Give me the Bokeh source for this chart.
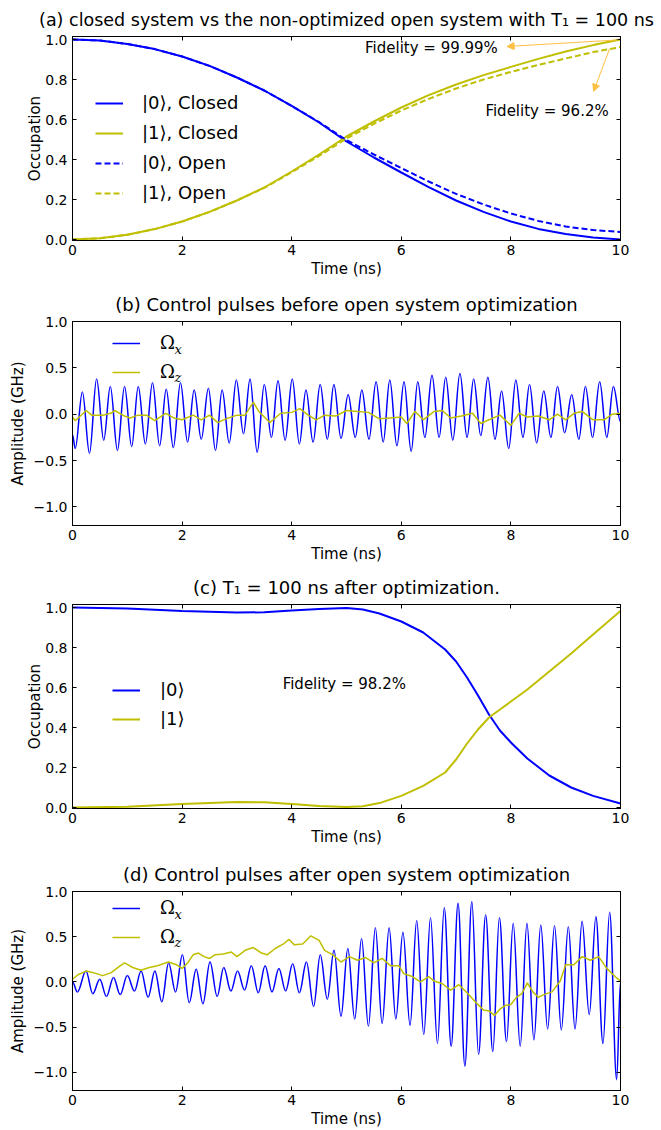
from bokeh.plotting import figure
from bokeh.layouts import column
from bokeh.models import (Range1d, FixedTicker, LinearAxis, Legend, LegendItem,
                          Label, Arrow, NormalHead, CustomJSTickFormatter, ColumnDataSource)
from bokeh.embed import file_html
from bokeh.resources import INLINE

# ---------------- data ----------------
x_ticks = [0, 2, 4, 6, 8, 10]
occ_ticks = [0.0, 0.2, 0.4, 0.6, 0.8, 1.0]
amp_ticks = [-1.0, -0.5, 0.0, 0.5, 1.0]

# (a) closed vs non-optimized open system
time_a = [0.0, 0.5, 1.0, 1.5, 2.0, 2.5, 3.0, 3.5, 4.0, 4.5, 5.0,
          5.5, 6.0, 6.5, 7.0, 7.5, 8.0, 8.5, 9.0, 9.5, 10.0]
p0_closed = [1.000, 0.995, 0.978, 0.952, 0.915, 0.868, 0.810, 0.745, 0.668, 0.585, 0.490,
             0.410, 0.335, 0.262, 0.195, 0.138, 0.090, 0.053, 0.027, 0.010, 0.000]
p1_closed = [0.000, 0.006, 0.024, 0.052, 0.090, 0.138, 0.195, 0.260, 0.340, 0.425, 0.515,
             0.590, 0.660, 0.722, 0.775, 0.822, 0.863, 0.903, 0.940, 0.972, 1.000]
p0_open = [1.000, 0.995, 0.978, 0.952, 0.915, 0.868, 0.810, 0.745, 0.668, 0.587, 0.497,
           0.425, 0.357, 0.290, 0.228, 0.175, 0.130, 0.093, 0.065, 0.047, 0.038]
p1_open = [0.000, 0.006, 0.024, 0.052, 0.090, 0.138, 0.195, 0.258, 0.336, 0.418, 0.505,
           0.578, 0.645, 0.703, 0.755, 0.800, 0.838, 0.873, 0.905, 0.937, 0.962]

# (b) control pulses before optimization (Omega_x: start, extrema, end)
bx_t = [0.0, 0.05, 0.18, 0.31, 0.44, 0.57, 0.69, 0.82, 0.95, 1.08, 1.20, 1.33, 1.46, 1.59,
        1.71, 1.84, 1.97, 2.10, 2.22, 2.35, 2.48, 2.61, 2.73, 2.86, 2.99, 3.12, 3.24, 3.37,
        3.50, 3.63, 3.75, 3.88, 4.01, 4.14, 4.26, 4.39, 4.52, 4.65, 4.77, 4.90, 5.03, 5.16,
        5.28, 5.41, 5.54, 5.67, 5.79, 5.92, 6.05, 6.18, 6.30, 6.43, 6.56, 6.69, 6.81, 6.94,
        7.07, 7.20, 7.32, 7.45, 7.58, 7.71, 7.83, 7.96, 8.09, 8.22, 8.34, 8.47, 8.60, 8.73,
        8.85, 8.98, 9.11, 9.24, 9.36, 9.49, 9.62, 9.75, 9.87, 10.0]
bx_v = [-0.22, -0.37,
        0.24, -0.42, 0.38, -0.28, 0.30, -0.39, 0.30, -0.35, 0.30, -0.32, 0.34, -0.34,
        0.27, -0.36, 0.34, -0.30, 0.26, -0.27, 0.28, -0.39, 0.26, -0.31, 0.37, -0.21,
        0.38, -0.41, 0.32, -0.25, 0.36, -0.28, 0.38, -0.32, 0.26, -0.30, 0.32, -0.27,
        0.32, -0.26, 0.21, -0.25, 0.26, -0.27, 0.35, -0.30, 0.37, -0.34, 0.35, -0.40,
        0.35, -0.25, 0.42, -0.25, 0.40, -0.28, 0.44, -0.25, 0.38, -0.23, 0.40, -0.27,
        0.25, -0.37, 0.37, -0.25, 0.32, -0.31, 0.25, -0.25, 0.30, -0.20, 0.21, -0.27,
        0.30, -0.25, 0.35, -0.25, 0.30,
        -0.08]
bz_t = [0, 0.05, 0.25, 0.35, 0.55, 0.7, 0.77, 0.95, 1.05, 1.2, 1.35, 1.5, 1.7, 1.85, 2.0,
        2.2, 2.35, 2.5, 2.65, 2.8, 3.0, 3.15, 3.3, 3.4, 3.6, 3.8, 4.0, 4.15, 4.3, 4.45,
        4.6, 4.8, 5.0, 5.2, 5.4, 5.6, 5.8, 6.0, 6.1, 6.25, 6.4, 6.6, 6.75, 6.9, 7.1,
        7.3, 7.45, 7.6, 7.8, 8.0, 8.15, 8.3, 8.5, 8.7, 8.85, 9.0, 9.15, 9.3, 9.5, 9.7,
        9.85, 10.0]
bz_v = [-0.03, -0.07, 0.04, -0.01, -0.01, 0.01, 0.04, -0.02, -0.04, -0.01, -0.01, -0.07,
        0.01, -0.04, -0.06, -0.01, -0.06, -0.01, -0.09, -0.05, -0.01, -0.01, 0.13, 0.03,
        -0.09, 0.01, 0.02, 0.06, -0.01, -0.06, -0.01, -0.02, 0.04, 0.03, 0.02, -0.05,
        -0.04, -0.03, -0.10, 0.03, -0.06, 0.03, 0.04, -0.04, -0.02, 0.01, -0.10, -0.06,
        -0.01, -0.12, 0.01, -0.03, -0.02, -0.06, 0.0, -0.06, 0.01, 0.03, -0.06, -0.06,
        0.0, 0.01]

# (c) T1 = 100 ns after optimization
time_c = [0.0, 1.0, 2.0, 3.0, 3.5, 4.0, 4.5, 5.0, 5.3, 5.6, 6.0, 6.4, 6.8, 7.0, 7.2, 7.4,
          7.6, 7.8, 8.0, 8.3, 8.7, 9.1, 9.5, 10.0]
p0_opt = [1.000, 0.995, 0.983, 0.975, 0.976, 0.985, 0.993, 0.997, 0.990, 0.970, 0.930,
          0.875, 0.790, 0.730, 0.650, 0.560, 0.465, 0.385, 0.325, 0.245, 0.160, 0.100,
          0.058, 0.020]
p1_opt = [0.000, 0.004, 0.017, 0.028, 0.026, 0.018, 0.008, 0.002, 0.006, 0.022, 0.058,
          0.108, 0.175, 0.240, 0.320, 0.390, 0.450, 0.490, 0.530, 0.590, 0.680, 0.770,
          0.865, 0.983]

# (d) control pulses after optimization (Omega_x: start, extrema, end)
dx_t = [0.0, 0.09,
        0.245, 0.37, 0.497, 0.62, 0.748, 0.87, 1.000, 1.13, 1.251, 1.38, 1.503, 1.63,
        1.754, 1.88, 2.006, 2.13, 2.257, 2.38, 2.509, 2.64, 2.760, 2.89, 3.012, 3.14,
        3.263, 3.39, 3.515, 3.64, 3.766, 3.89, 4.018, 4.14, 4.269, 4.40, 4.521, 4.65,
        4.772, 4.90, 5.024, 5.15, 5.275, 5.40, 5.527, 5.65, 5.778, 5.90, 6.030, 6.16,
        6.281, 6.41, 6.533, 6.66, 6.784, 6.91, 7.036, 7.16, 7.287, 7.41, 7.539, 7.67,
        7.790, 7.92, 8.042, 8.17, 8.293, 8.42, 8.545, 8.67, 8.796, 8.92, 9.048, 9.17,
        9.299, 9.43, 9.551, 9.68, 9.802, 9.93,
        10.0]
dx_v = [0.0, -0.11,
        0.12, -0.13, 0.03, -0.16, 0.05, -0.14, 0.07, -0.10, 0.12, -0.17, 0.12, -0.22,
        0.21, -0.11, 0.30, -0.23, 0.14, -0.24, 0.22, -0.16, 0.16, -0.10, 0.12, -0.09,
        0.18, -0.12, 0.18, -0.11, 0.15, -0.10, 0.20, -0.12, 0.22, -0.27, 0.30, -0.19,
        0.35, -0.38, 0.37, -0.41, 0.48, -0.49, 0.60, -0.46, 0.60, -0.41, 0.55, -0.48,
        0.68, -0.58, 0.71, -0.68, 0.82, -0.71, 0.87, -0.93, 0.89, -0.80, 0.74, -0.77,
        0.71, -0.66, 0.65, -0.71, 0.65, -0.64, 0.63, -0.52, 0.62, -0.53, 0.61, -0.52,
        0.67, -0.36, 0.72, -0.68, 0.77, -1.08,
        0.0]
dz_t = [0, 0.1, 0.25, 0.4, 0.55, 0.7, 0.85, 0.95, 1.1, 1.25, 1.4, 1.55, 1.75, 1.9, 2.0,
        2.1, 2.2, 2.3, 2.4, 2.5, 2.6, 2.75, 2.9, 3.0, 3.15, 3.3, 3.45, 3.55, 3.7, 3.85,
        3.95, 4.05, 4.2, 4.35, 4.5, 4.6, 4.75, 4.9, 5.05, 5.2, 5.35, 5.5, 5.65, 5.8,
        5.95, 6.05, 6.2, 6.35, 6.5, 6.6, 6.75, 6.9, 7.05, 7.2, 7.35, 7.5, 7.6, 7.7, 7.8,
        7.9, 8.0, 8.1, 8.2, 8.3, 8.4, 8.5, 8.6, 8.75, 8.9, 9.0, 9.15, 9.3, 9.45, 9.6,
        9.75, 9.9, 10.0]
dz_v = [0.03, 0.08, 0.12, 0.10, 0.07, 0.10, 0.17, 0.21, 0.16, 0.13, 0.16, 0.18, 0.22,
        0.19, 0.15, 0.21, 0.30, 0.32, 0.28, 0.26, 0.30, 0.31, 0.33, 0.28, 0.35, 0.38,
        0.32, 0.30, 0.37, 0.42, 0.47, 0.41, 0.42, 0.51, 0.46, 0.35, 0.30, 0.22, 0.28,
        0.24, 0.27, 0.21, 0.26, 0.18, 0.18, 0.09, 0.06, 0.0, 0.06, 0.01, -0.02, -0.09,
        -0.03, -0.12, -0.22, -0.31, -0.32, -0.37, -0.30, -0.26, -0.25, -0.17, -0.13,
        -0.01, -0.11, -0.17, -0.14, -0.11, 0.01, 0.19, 0.19, 0.28, 0.24, 0.28, 0.15,
        0.06, 0.01]

# ---------------- style ----------------
FONT = "DejaVu Sans"
SERIF = "DejaVu Serif"
BLUE = "#0000ff"
YEL = "#bfbf00"
ARROW_C = "#ffbf40"


def base_fig(height, title, ylabel, yr, yticks, top=36, bottom=45, title_size="18px",
             ylabel_standoff=8):
    p = figure(width=661, height=height, x_range=Range1d(0, 10), y_range=Range1d(*yr),
               output_backend="svg", toolbar_location=None,
               min_border_left=72, min_border_right=41,
               min_border_top=top, min_border_bottom=bottom)
    p.title.text = title
    p.title.align = "center"
    p.title.text_font = FONT
    p.title.text_font_size = title_size
    p.title.text_font_style = "normal"
    p.title.text_color = "black"
    p.title.standoff = 13
    p.xgrid.visible = False
    p.ygrid.visible = False
    p.outline_line_color = "black"
    p.outline_line_width = 1
    p.xaxis.ticker = FixedTicker(ticks=x_ticks)
    p.yaxis.ticker = FixedTicker(ticks=yticks)
    p.xaxis.formatter = CustomJSTickFormatter(code="return tick.toFixed(0);")
    p.yaxis.formatter = CustomJSTickFormatter(
        code="return tick.toFixed(1).replace('-', '\\u2212');")
    for ax in (p.xaxis[0], p.yaxis[0]):
        ax.major_tick_in = 4
        ax.major_tick_out = 0
        ax.minor_tick_line_color = None
        ax.axis_line_color = "black"
        ax.major_tick_line_color = "black"
        ax.major_label_text_font = FONT
        ax.major_label_text_font_size = "14px"
        ax.major_label_text_color = "black"
        ax.axis_label_text_font = FONT
        ax.axis_label_text_font_size = "15px"
        ax.axis_label_text_font_style = "normal"
        ax.axis_label_text_color = "black"
    p.xaxis.axis_label = "Time (ns)"
    p.yaxis.axis_label = ylabel
    p.xaxis.major_label_standoff = 4
    p.xaxis.axis_label_standoff = 2
    p.yaxis.major_label_standoff = 5
    p.yaxis.axis_label_standoff = ylabel_standoff
    for loc, tk in (("above", x_ticks), ("right", yticks)):
        ax = LinearAxis(ticker=FixedTicker(ticks=tk),
                        formatter=CustomJSTickFormatter(code="return '';"),
                        major_tick_in=4, major_tick_out=0, minor_tick_line_color=None,
                        axis_line_color="black", major_tick_line_color="black",
                        major_label_standoff=0)
        p.add_layout(ax, loc)
    return p


def smooth_wave(p, t, v, color, width):
    """Draw the read extrema as a smooth wave: one cubic Bezier per pair of
    neighbouring points, with horizontal tangents at each point."""
    x0, y0, x1, y1 = t[:-1], v[:-1], t[1:], v[1:]
    k = 0.364
    src = ColumnDataSource(dict(
        x0=x0, y0=y0, x1=x1, y1=y1,
        cx0=[a + k * (b - a) for a, b in zip(x0, x1)], cy0=y0,
        cx1=[b - k * (b - a) for a, b in zip(x0, x1)], cy1=y1))
    return p.bezier(x0="x0", y0="y0", x1="x1", y1="y1", cx0="cx0", cy0="cy0",
                    cx1="cx1", cy1="cy1", source=src, line_color=color, line_width=width)


def add_legend(p, items, x, y, spacing, standoff, font=FONT):
    leg = Legend(items=items, location=(x, y), orientation="vertical",
                 border_line_color=None, background_fill_alpha=0,
                 padding=0, margin=0, spacing=spacing,
                 glyph_width=28, glyph_height=20, label_height=20,
                 label_standoff=standoff, label_text_font=font,
                 label_text_font_size="18px", label_text_color="black")
    p.add_layout(leg)
    return leg


def add_subscripts(p, x, y_first, pitch, subs):
    for i, s in enumerate(subs):
        p.add_layout(Label(x=x, y=y_first - i * pitch, x_units="screen", y_units="screen",
                           text=s, text_font=SERIF, text_font_style="italic",
                           text_font_size="13px", text_align="left",
                           text_baseline="middle", text_color="black"))


def note(p, x, y, text):
    p.add_layout(Label(x=x, y=y, text=text, text_font=FONT, text_font_size="15px",
                       text_align="center", text_baseline="middle", text_color="black"))


def arrow(p, xs, ys, xe, ye):
    p.add_layout(Arrow(x_start=xs, y_start=ys, x_end=xe, y_end=ye,
                       line_color=ARROW_C, line_width=1,
                       end=NormalHead(size=7, fill_color=ARROW_C, line_color=ARROW_C)))


# ---------------- (a) ----------------
pa = base_fig(285, "(a) closed system vs the non-optimized open system with T\u2081 = 100 ns",
              "Occupation", (-0.005, 1.015), occ_ticks, bottom=45, title_size="17.5px",
              ylabel_standoff=-2)
ra1 = pa.line(time_a, p0_closed, line_color=BLUE, line_width=2)
ra2 = pa.line(time_a, p1_closed, line_color=YEL, line_width=2)
ra3 = pa.line(time_a, p0_open, line_color=BLUE, line_width=2, line_dash="6 3")
ra4 = pa.line(time_a, p1_open, line_color=YEL, line_width=2, line_dash="6 3")
add_legend(pa, [LegendItem(label="|0\u27e9, Closed", renderers=[ra1]),
                LegendItem(label="|1\u27e9, Closed", renderers=[ra2]),
                LegendItem(label="|0\u27e9, Open", renderers=[ra3]),
                LegendItem(label="|1\u27e9, Open", renderers=[ra4])],
           x=23, y=37, spacing=9, standoff=19)
note(pa, 6.55, 0.956, "Fidelity = 99.99%")
note(pa, 8.66, 0.644, "Fidelity = 96.2%")
arrow(pa, 9.96, 0.998, 7.93, 0.965)
arrow(pa, 9.80, 0.953, 9.51, 0.741)

# ---------------- (b) ----------------
pb = base_fig(283, "(b) Control pulses before open system optimization",
              "Amplitude (GHz)", (-1.2, 1.0), amp_ticks, bottom=43, ylabel_standoff=4)
rb1 = smooth_wave(pb, bx_t, bx_v, BLUE, 1.5)
rb2 = pb.line(bz_t, bz_v, line_color=YEL, line_width=1.5)
add_legend(pb, [LegendItem(label="\u03a9", renderers=[rb1]),
                LegendItem(label="\u03a9", renderers=[rb2])],
           x=40, y=143, spacing=8, standoff=20, font=SERIF)
add_subscripts(pb, 102, 176, 28, ["x", "z"])

# ---------------- (c) ----------------
pc = base_fig(287, "(c) T\u2081 = 100 ns after optimization.",
              "Occupation", (-0.005, 1.015), occ_ticks, bottom=47, ylabel_standoff=-2)
rc1 = pc.line(time_c, p0_opt, line_color=BLUE, line_width=2)
rc2 = pc.line(time_c, p1_opt, line_color=YEL, line_width=2)
add_legend(pc, [LegendItem(label="|0\u27e9", renderers=[rc1]),
                LegendItem(label="|1\u27e9", renderers=[rc2])],
           x=40, y=79, spacing=8, standoff=20)
note(pc, 4.96, 0.618, "Fidelity = 98.2%")

# ---------------- (d) ----------------
pd_ = base_fig(275, "(d) Control pulses after open system optimization",
               "Amplitude (GHz)", (-1.2, 1.0), amp_ticks, bottom=35, ylabel_standoff=4)
rd1 = smooth_wave(pd_, dx_t, dx_v, BLUE, 1.5)
rd2 = pd_.line(dz_t, dz_v, line_color=YEL, line_width=1.5)
add_legend(pd_, [LegendItem(label="\u03a9", renderers=[rd1]),
                 LegendItem(label="\u03a9", renderers=[rd2])],
           x=40, y=143, spacing=8, standoff=20, font=SERIF)
add_subscripts(pd_, 102, 176, 28, ["x", "z"])

layout = column(pa, pb, pc, pd_, spacing=0)
open("out.html", "w").write(file_html(layout, INLINE))
